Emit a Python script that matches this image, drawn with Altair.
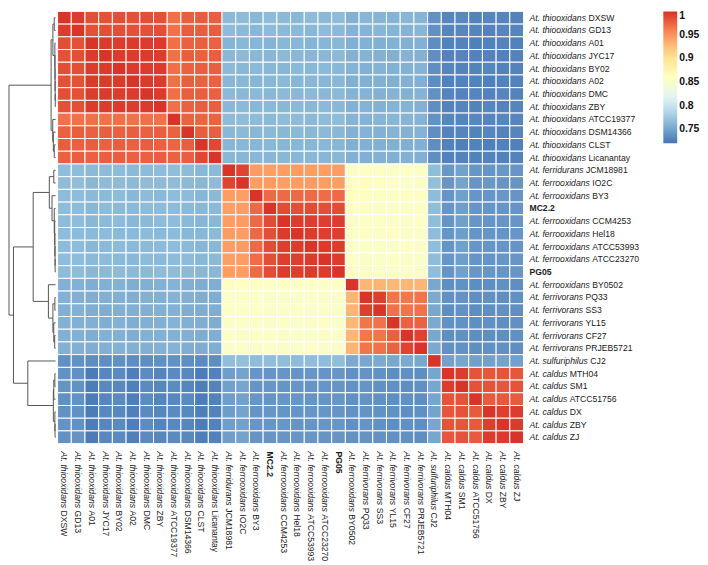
import altair as alt
import pandas as pd

# ---------------- labels ----------------
species = [
    "At. thiooxidans", "At. thiooxidans", "At. thiooxidans", "At. thiooxidans",
    "At. thiooxidans", "At. thiooxidans", "At. thiooxidans", "At. thiooxidans",
    "At. thiooxidans", "At. thiooxidans", "At. thiooxidans", "At. thiooxidans",
    "At. ferridurans", "At. ferrooxidans", "At. ferrooxidans", "",
    "At. ferrooxidans", "At. ferrooxidans", "At. ferrooxidans", "At. ferrooxidans", "",
    "At. ferrooxidans", "At. ferrivorans", "At. ferrivorans", "At. ferrivorans",
    "At. ferrivorans", "At. ferrivorans", "At. sulfuriphilus",
    "At. caldus", "At. caldus", "At. caldus", "At. caldus", "At. caldus", "At. caldus",
]
strains = [
    "DXSW", "GD13", "A01", "JYC17", "BY02", "A02", "DMC", "ZBY", "ATCC19377",
    "DSM14366", "CLST", "Licanantay",
    "JCM18981", "IO2C", "BY3", "MC2.2", "CCM4253", "Hel18", "ATCC53993", "ATCC23270", "PG05",
    "BY0502", "PQ33", "SS3", "YL15", "CF27", "PRJEB5721", "CJ2",
    "MTH04", "SM1", "ATCC51756", "DX", "ZBY", "ZJ",
]

# ---------------- ANI values (rows) ----------------
ani_thiooxidans = [
    [.998,.994,.985,.984,.985,.984,.985,.984,.968,.977,.978,.977, .763,.764,.762,.765,.763,.762,.764,.763,.764, .758,.761,.760,.759,.761,.760, .738, .731,.732,.729,.731,.730,.729],
    [.994,.998,.984,.985,.985,.984,.984,.985,.967,.978,.977,.978, .764,.763,.762,.764,.763,.763,.762,.764,.763, .759,.760,.761,.760,.759,.761, .737, .730,.731,.730,.729,.731,.730],
    [.985,.984,.998,.995,.994,.995,.994,.995,.969,.976,.977,.976, .760,.762,.761,.760,.762,.761,.760,.761,.762, .757,.758,.757,.758,.757,.758, .735, .728,.729,.727,.728,.729,.728],
    [.984,.985,.995,.998,.995,.994,.995,.994,.968,.977,.976,.977, .762,.763,.762,.761,.763,.762,.761,.762,.763, .758,.759,.758,.757,.759,.758, .736, .729,.730,.728,.729,.728,.729],
    [.985,.985,.994,.995,.998,.995,.994,.995,.969,.976,.977,.977, .763,.762,.763,.762,.761,.763,.762,.763,.762, .759,.758,.759,.758,.758,.759, .736, .730,.729,.729,.730,.728,.729],
    [.984,.984,.995,.994,.995,.998,.995,.994,.968,.977,.976,.976, .761,.762,.761,.762,.763,.761,.762,.761,.762, .757,.758,.758,.757,.758,.757, .735, .728,.729,.728,.727,.729,.728],
    [.985,.984,.994,.995,.994,.995,.998,.995,.969,.977,.977,.976, .763,.762,.763,.762,.763,.762,.763,.762,.763, .759,.759,.758,.759,.758,.759, .737, .730,.729,.730,.729,.730,.729],
    [.984,.985,.995,.994,.995,.994,.995,.998,.968,.976,.977,.977, .762,.763,.762,.763,.762,.763,.762,.763,.762, .758,.759,.758,.759,.759,.758, .736, .729,.730,.729,.730,.729,.730],
    [.967,.967,.968,.967,.968,.967,.968,.967,.998,.975,.974,.975, .764,.765,.764,.763,.765,.764,.763,.764,.765, .760,.759,.760,.761,.760,.759, .738, .731,.730,.731,.730,.731,.730],
    [.976,.977,.976,.977,.976,.977,.976,.977,.975,.998,.978,.977, .762,.763,.762,.763,.762,.763,.762,.763,.762, .758,.759,.758,.759,.758,.759, .736, .729,.730,.729,.730,.729,.730],
    [.977,.976,.977,.976,.977,.976,.977,.976,.974,.978,.998,.988, .761,.762,.761,.762,.761,.762,.761,.762,.761, .757,.758,.757,.758,.757,.758, .735, .728,.727,.728,.727,.728,.727],
    [.976,.977,.976,.977,.977,.976,.976,.977,.975,.977,.988,.998, .762,.761,.762,.761,.762,.761,.762,.761,.762, .758,.757,.758,.757,.758,.757, .736, .728,.729,.728,.729,.728,.729],
]
ani_ferrooxidans = [
    [.766,.765,.763,.764,.765,.763,.764,.765,.766,.764,.762,.763, .998,.990,.945,.943,.944,.945,.944,.943,.944, .853,.858,.856,.854,.857,.855, .766, .742,.748,.741,.740,.742,.741],
    [.765,.766,.762,.764,.764,.763,.765,.764,.765,.763,.762,.764, .990,.998,.944,.945,.943,.944,.945,.944,.943, .857,.862,.858,.855,.856,.854, .767, .741,.749,.740,.742,.741,.740],
    [.764,.765,.763,.763,.764,.762,.764,.763,.765,.764,.761,.763, .944,.943,.998,.972,.971,.972,.971,.970,.971, .858,.861,.857,.855,.858,.856, .765, .740,.747,.741,.741,.742,.740],
    [.765,.764,.762,.764,.763,.763,.764,.764,.764,.763,.762,.763, .943,.944,.972,.998,.986,.985,.986,.985,.986, .855,.857,.854,.853,.855,.856, .766, .741,.746,.740,.741,.741,.740],
    [.764,.765,.762,.763,.764,.762,.763,.764,.765,.763,.761,.762, .944,.945,.971,.986,.998,.994,.993,.993,.994, .853,.856,.855,.854,.853,.855, .766, .740,.747,.741,.740,.741,.741],
    [.765,.764,.763,.764,.763,.763,.764,.763,.764,.762,.762,.763, .945,.944,.972,.985,.994,.998,.994,.993,.993, .854,.855,.853,.856,.854,.853, .765, .741,.746,.740,.741,.740,.741],
    [.764,.764,.762,.763,.764,.763,.763,.764,.765,.763,.761,.762, .944,.945,.971,.986,.993,.994,.998,.995,.994, .853,.855,.854,.853,.856,.854, .766, .740,.747,.741,.741,.741,.740],
    [.765,.765,.763,.764,.763,.762,.764,.763,.764,.764,.762,.763, .943,.944,.970,.985,.993,.993,.995,.998,.994, .855,.853,.854,.855,.853,.854, .765, .741,.746,.740,.740,.741,.741],
    [.764,.765,.762,.763,.764,.763,.763,.764,.765,.763,.762,.762, .944,.943,.971,.986,.994,.993,.994,.994,.998, .854,.854,.853,.854,.855,.853, .766, .740,.747,.741,.741,.740,.741],
]
ani_ferrivorans = [
    [.757,.758,.756,.757,.758,.756,.757,.758,.759,.757,.755,.756, .857,.860,.857,.855,.856,.855,.856,.855,.856, .998,.930,.931,.929,.930,.931, .752, .736,.738,.735,.736,.737,.736],
    [.758,.757,.756,.757,.757,.756,.758,.757,.759,.757,.755,.756, .855,.857,.856,.853,.854,.853,.855,.854,.853, .930,.998,.993,.966,.965,.966, .753, .737,.739,.736,.737,.736,.737],
    [.757,.758,.756,.756,.757,.757,.757,.758,.758,.756,.755,.756, .856,.856,.855,.854,.853,.855,.853,.854,.854, .931,.993,.998,.967,.966,.967, .752, .736,.738,.735,.736,.737,.736],
    [.758,.757,.757,.756,.758,.756,.757,.757,.759,.757,.756,.755, .854,.856,.855,.853,.855,.853,.854,.855,.853, .929,.966,.967,.998,.976,.975, .753, .737,.738,.736,.737,.736,.737],
    [.757,.758,.756,.757,.757,.756,.758,.757,.758,.757,.755,.756, .855,.854,.856,.855,.853,.854,.853,.853,.855, .930,.965,.966,.976,.998,.991, .752, .736,.737,.735,.736,.736,.737],
    [.758,.757,.756,.757,.758,.757,.757,.758,.759,.756,.755,.756, .853,.855,.854,.855,.854,.853,.855,.854,.853, .931,.966,.967,.975,.991,.998, .753, .737,.738,.736,.737,.737,.736],
]
ani_sulfuriphilus = [
    [.737,.738,.735,.736,.737,.735,.736,.737,.738,.736,.734,.735, .766,.767,.765,.766,.766,.765,.766,.765,.766, .753,.752,.753,.752,.753,.752, .998, .748,.750,.747,.748,.749,.748],
]
ani_caldus = [
    [.738,.737,.724,.731,.733,.726,.734,.730,.733,.732,.725,.728, .746,.749,.741,.740,.741,.740,.741,.740,.741, .737,.739,.738,.736,.737,.736, .750, .998,.994,.982,.981,.982,.981],
    [.739,.738,.725,.732,.732,.727,.733,.731,.734,.731,.726,.729, .747,.750,.740,.741,.740,.741,.740,.741,.740, .738,.740,.737,.737,.736,.737, .751, .994,.998,.983,.982,.981,.982],
    [.737,.738,.725,.731,.733,.726,.734,.730,.732,.733,.725,.728, .746,.748,.741,.740,.741,.741,.740,.740,.741, .737,.739,.737,.736,.737,.736, .750, .982,.983,.998,.979,.980,.979],
    [.738,.737,.724,.732,.732,.727,.733,.731,.733,.732,.726,.729, .745,.749,.740,.741,.740,.740,.741,.741,.740, .738,.739,.738,.737,.736,.737, .749, .981,.982,.979,.998,.993,.994],
    [.739,.738,.725,.731,.733,.726,.734,.730,.732,.731,.725,.728, .746,.748,.741,.741,.741,.740,.740,.741,.741, .737,.740,.737,.736,.737,.736, .750, .982,.981,.980,.993,.998,.995],
    [.738,.739,.724,.732,.733,.727,.733,.731,.733,.732,.726,.728, .746,.749,.740,.740,.741,.741,.741,.740,.740, .738,.739,.738,.737,.737,.736, .751, .981,.982,.979,.994,.995,.998],
]

# ---------------- dendrogram (hclust-style merges: -k = leaf k, +m = merge m) ----------------
merge_left = [-7, -6, -5, -4, -3, -1, 6, -11, -10, -9, 7,
              -20, -19, -18, -17, -16, -15, -13, 18, -23, -26, -25, 20, -22, 19,
              -29, 26, -33, -32, 27, -28, 25, 11]
merge_right = [-8, 1, 2, 3, 4, -2, 5, -12, 8, 9, 10,
               -21, 12, 13, 14, 15, 16, -14, 17, -24, -27, 21, 22, 23, 24,
               -30, -31, -34, 28, 29, 30, 31, 32]
merge_height = [0.4, 0.5, 0.6, 0.7, 0.8, 1.5, 3.0, 1.5, 2.5, 3.2, 5.0,
                0.5, 0.6, 0.8, 1.0, 1.5, 4.0, 2.0, 7.0, 0.8, 1.0, 2.0, 3.0, 8.0, 25.0,
                0.8, 2.0, 0.6, 0.8, 2.5, 31.0, 47.0, 52.0]

# ---------------- build tables ----------------
ani = ani_thiooxidans + ani_ferrooxidans + ani_ferrivorans + ani_sulfuriphilus + ani_caldus
n = len(strains)

cells = pd.DataFrame([
    {"x0": c, "x1": c + 1, "y0": r, "y1": r + 1, "ANI": ani[r][c]}
    for r in range(n) for c in range(n)
])

labels = pd.DataFrame({
    "species": species,
    "strain": strains,
    "pos": [i + 0.5 for i in range(n)],
    "bold": [s == "" for s in species],
})

node_y, node_h, segs = {}, {}, []


def child(k):
    if k < 0:
        return (-k) - 0.5, 0.0
    return node_y[k], node_h[k]


for m, (l, r, h) in enumerate(zip(merge_left, merge_right, merge_height), start=1):
    yl, hl = child(l)
    yr, hr = child(r)
    segs.append({"x": h, "x2": h, "y": yl, "y2": yr})
    segs.append({"x": h, "x2": hl, "y": yl, "y2": yl})
    segs.append({"x": h, "x2": hr, "y": yr, "y2": yr})
    node_y[m] = (yl + yr) / 2
    node_h[m] = h
segs = pd.DataFrame(segs)

# ---------------- style ----------------
FONT = "Liberation Sans"
FS = 8.7
TC = "#1a1a1a"
W, H = 470, 436
AW = {' ': 278, '.': 278, 'A': 667, 't': 278, 'h': 556, 'i': 222, 'o': 556, 'x': 500,
      'd': 556, 'a': 556, 'n': 556, 's': 500, 'f': 278, 'e': 556, 'r': 333, 'u': 556,
      'v': 500, 'l': 222, 'p': 556, 'c': 500}


def text_width(s):
    return sum(AW.get(ch, 556) for ch in s) * FS / 1000.0


palette = ["#4575b4", "#91bfdb", "#e0f3f8", "#ffffbf", "#fee090", "#fc8d59", "#d73027"]
vmin, vmax = 0.72, 1.0
stops = [vmin + (vmax - vmin) * k / 6 for k in range(7)]

xs = alt.Scale(domain=[0, n], nice=False, zero=False)
ys = alt.Scale(domain=[0, n], nice=False, zero=False, reverse=True)

rect = alt.Chart(cells).mark_rect(stroke="white", strokeWidth=1).encode(
    x=alt.X("x0:Q", scale=xs, axis=None),
    x2="x1:Q",
    y=alt.Y("y0:Q", scale=ys, axis=None),
    y2="y1:Q",
    color=alt.Color(
        "ANI:Q",
        scale=alt.Scale(domain=stops, range=palette, interpolate="rgb"),
        legend=alt.Legend(
            title=None, orient="none", legendX=660, legendY=0,
            gradientLength=133, gradientThickness=14, gradientStrokeWidth=0,
            values=[0.75, 0.8, 0.85, 0.9, 0.95, 1.0],
            labelExpr="format(datum.value, '.2~f')",
            labelFont=FONT, labelFontSize=10.5, labelFontWeight="bold",
            labelColor="#111111", labelOffset=2,
        ),
    ),
)

base = alt.Chart(labels)
text_kw = dict(font=FONT, fontSize=FS, color=TC, baseline="middle", align="left")

layers = [rect]
# row labels
layers.append(base.transform_filter("datum.species != ''").mark_text(fontStyle="italic", **text_kw).encode(
    y=alt.Y("pos:Q", scale=ys, axis=None), x=alt.value(W + 6), text="species:N"))
layers.append(base.transform_filter("datum.bold").mark_text(fontWeight="bold", **text_kw).encode(
    y=alt.Y("pos:Q", scale=ys, axis=None), x=alt.value(W + 6), text="strain:N"))
# column labels
layers.append(base.transform_filter("datum.species != ''").mark_text(fontStyle="italic", angle=90, **text_kw).encode(
    x=alt.X("pos:Q", scale=xs, axis=None), y=alt.value(H + 8), text="species:N"))
layers.append(base.transform_filter("datum.bold").mark_text(fontWeight="bold", angle=90, **text_kw).encode(
    x=alt.X("pos:Q", scale=xs, axis=None), y=alt.value(H + 8), text="strain:N"))

for sp in sorted(set(s for s in species if s)):
    off = text_width(sp + " ")
    sub = base.transform_filter(alt.datum.species == sp)
    layers.append(sub.mark_text(dx=off, **text_kw).encode(
        y=alt.Y("pos:Q", scale=ys, axis=None), x=alt.value(W + 6), text="strain:N"))
    layers.append(sub.mark_text(dx=off, angle=90, **text_kw).encode(
        x=alt.X("pos:Q", scale=xs, axis=None), y=alt.value(H + 8), text="strain:N"))

heat = alt.layer(*layers).properties(width=W, height=H)

dendro = alt.Chart(segs).mark_rule(color="#555555", strokeWidth=1).encode(
    x=alt.X("x:Q", scale=alt.Scale(domain=[0, 52], nice=False, zero=False, reverse=True), axis=None),
    x2="x2:Q",
    y=alt.Y("y:Q", scale=ys, axis=None),
    y2="y2:Q",
).properties(width=47, height=H)

chart = alt.hconcat(dendro, heat, spacing=0).properties(padding=0).configure_view(strokeWidth=0)

chart.save("out.html", embed_options={"renderer": "svg", "actions": False})
